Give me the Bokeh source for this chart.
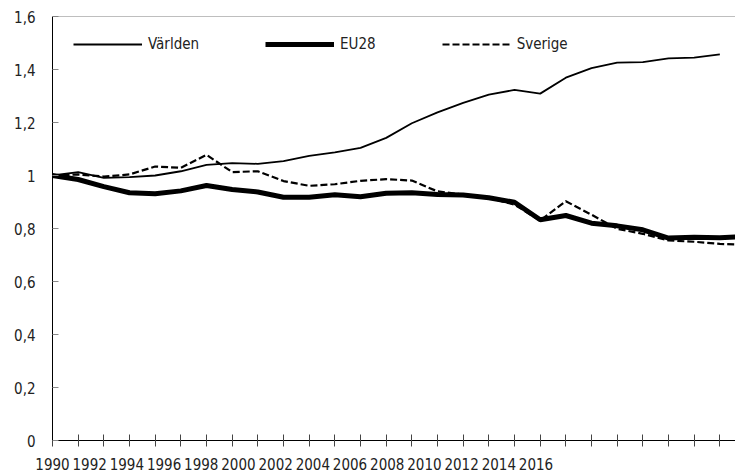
from bokeh.plotting import figure
from bokeh.models import Range1d, FixedTicker, Span, Legend, LegendItem
from bokeh.embed import file_html
from bokeh.resources import INLINE

nan = float("nan")

# ---- data -------------------------------------------------------------
years = list(range(1990, 2018))
varlden = [1.000, 1.013, 0.991, 0.994, 1.000, 1.016, 1.040, 1.047, 1.044, 1.054,
           1.074, 1.087, 1.104, 1.142, 1.197, 1.238, 1.274, 1.305, 1.323, 1.309,
           1.369, 1.405, 1.426, 1.428, 1.442, 1.445, 1.457, nan]
eu28 = [1.000, 0.985, 0.958, 0.935, 0.931, 0.942, 0.962, 0.947, 0.938, 0.918,
        0.918, 0.927, 0.920, 0.933, 0.935, 0.928, 0.926, 0.916, 0.899, 0.833,
        0.849, 0.820, 0.810, 0.795, 0.764, 0.767, 0.765, 0.770]
sverige = [1.000, 1.004, 0.996, 1.004, 1.034, 1.029, 1.078, 1.013, 1.016, 0.979,
           0.961, 0.967, 0.980, 0.986, 0.981, 0.940, 0.928, 0.916, 0.890, 0.830,
           0.903, 0.852, 0.799, 0.780, 0.755, 0.750, 0.742, 0.738]

year_labels = ["1990", "1992", "1994", "1996", "1998", "2000", "2002",
               "2004", "2006", "2008", "2010", "2012", "2014", "2016"]
y_ticks = [0, 0.2, 0.4, 0.6, 0.8, 1.0, 1.2, 1.4, 1.6]
y_labels = ["0", "0,2", "0,4", "0,6", "0,8", "1", "1,2", "1,4", "1,6"]

# ---- layout constants -------------------------------------------------
FONT = "'DejaVu Sans Condensed', 'Roboto', sans-serif"
FS = "15px"
LABEL_STEP = 1.449  # year labels are packed tighter than the yearly ticks

p = figure(width=735, height=472, output_backend="svg", toolbar_location=None,
           x_range=Range1d(1990, 2016.61), y_range=Range1d(0, 1.6),
           min_border_left=52, min_border_right=0, min_border_top=16,
           min_border_bottom=32)
p.outline_line_color = None
p.xgrid.visible = False
p.ygrid.visible = False
p.background_fill_color = "white"
p.border_fill_color = "white"

r_v = p.line(years, varlden, line_color="black", line_width=1.8)
r_e = p.line(years, eu28, line_color="black", line_width=5)
r_s = p.line(years, sverige, line_color="black", line_width=2.2, line_dash="7 3")

top = Span(location=1.6, dimension="width", line_color="#7f7f7f", line_width=1)
p.add_layout(top)

# x axis
label_pos = [1990 + i * LABEL_STEP for i in range(len(year_labels))]
p.xaxis.ticker = FixedTicker(ticks=label_pos, minor_ticks=years)
p.xaxis.major_label_overrides = {pos: lab for pos, lab in zip(label_pos, year_labels)}
p.xaxis.major_tick_in = 0
p.xaxis.major_tick_out = 0
p.xaxis.minor_tick_in = 6
p.xaxis.minor_tick_out = 6
p.xaxis.minor_tick_line_color = "#444444"
p.xaxis.axis_line_color = "black"
p.xaxis.major_label_standoff = 11
p.xaxis.major_label_text_font = FONT
p.xaxis.major_label_text_font_size = FS
p.xaxis.major_label_text_color = "#222222"

# y axis
p.yaxis.ticker = FixedTicker(ticks=y_ticks, minor_ticks=[])
p.yaxis.major_label_overrides = {t: l for t, l in zip(y_ticks, y_labels)}
p.yaxis.major_tick_in = 6
p.yaxis.major_tick_out = 0
p.yaxis.major_tick_line_color = "#888888"
p.yaxis.axis_line_color = "black"
p.yaxis.major_label_standoff = 17
p.yaxis.major_label_text_font = FONT
p.yaxis.major_label_text_font_size = FS
p.yaxis.major_label_text_color = "#222222"

legend = Legend(items=[LegendItem(label="Världen", renderers=[r_v]),
                       LegendItem(label="EU28", renderers=[r_e]),
                       LegendItem(label="Sverige", renderers=[r_s])],
                location=(21, 386), orientation="horizontal",
                glyph_width=69, glyph_height=20, label_standoff=6, spacing=66,
                padding=0, margin=0, border_line_color=None,
                background_fill_alpha=0,
                label_text_font=FONT, label_text_font_size=FS,
                label_text_color="#222222")
p.add_layout(legend)

open("out.html", "w").write(file_html(p, INLINE))
